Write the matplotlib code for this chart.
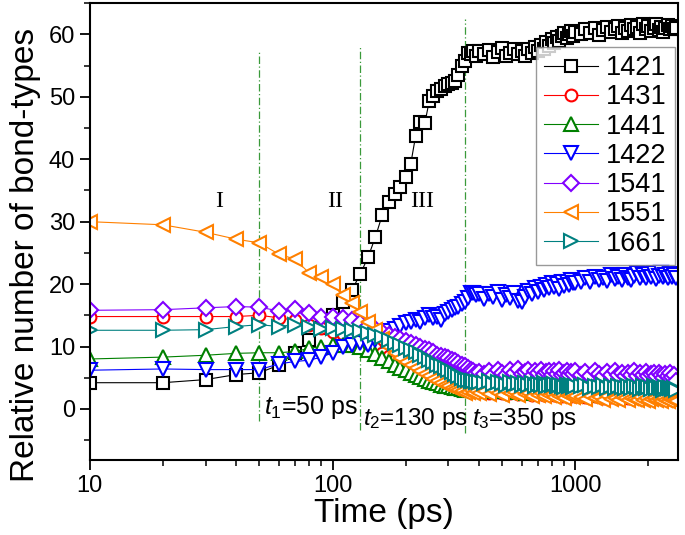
import matplotlib
matplotlib.use("Agg")
import matplotlib.pyplot as plt
from matplotlib.ticker import FixedLocator, NullFormatter, MultipleLocator
import numpy as np

plt.rcParams['font.family'] = ['Liberation Sans', 'DejaVu Sans']
plt.rcParams['mathtext.fontset'] = 'custom'
plt.rcParams['mathtext.rm'] = 'Liberation Sans'
plt.rcParams['mathtext.it'] = 'Liberation Sans:italic'

# ---- data ----
time_a = [10, 20, 30, 40, 50, 60, 70, 80, 90, 100, 110, 120, 130, 140, 150, 160, 170, 180, 190, 200,
          210, 220, 230, 240, 250, 260, 270, 280, 290, 300, 310, 320, 330, 340, 350, 360, 370, 380, 390, 400]
time_b = [420, 440, 460, 480, 500, 520, 540, 560, 580, 600, 620, 640, 660, 680, 700, 720, 740, 760, 780, 800,
          820, 840, 860, 880, 900, 920, 940, 960, 980, 1000]
time_c = [1050, 1100, 1150, 1200, 1250, 1300, 1350, 1400, 1450, 1500, 1550, 1600, 1650, 1700, 1750, 1800,
          1850, 1900, 1950, 2000, 2050, 2100, 2150, 2200, 2250, 2300, 2350, 2400, 2450, 2500, 2550, 2600]
time_ps = time_a + time_b + time_c

b1421 = [4.2, 4.2, 4.7, 5.5, 5.8, 7.0, 9.0, 11.0, 13.0, 15.0, 17.2, 19.0, 21.6, 24.3, 27.5, 31.0, 33.1, 34.4, 35.5, 37.1,
         39.3, 43.8, 45.9, 45.8, 49.3, 50.2, 50.9, 51.3, 51.8, 52.0, 52.2, 52.5, 53.5, 55.0, 55.7, 57.1, 56.8, 57.3, 56.6, 57.4,
         56.9, 57.5, 56.4, 57.2, 57.8, 56.6, 57.0, 57.6, 56.8, 57.3, 56.5, 57.7, 57.1, 58.0, 57.4, 58.3, 57.6, 58.8, 58.2, 59.3,
         58.7, 59.6, 59.0, 59.8, 60.3, 59.4, 60.1, 60.6, 59.7, 60.4,
         60.0, 60.8, 60.3, 61.0, 59.9, 60.7, 61.2, 60.4, 60.9, 61.4, 60.2, 61.0, 60.6, 61.5, 60.8, 61.2, 60.3, 61.6, 60.9, 61.3,
         60.5, 61.1, 61.6, 60.7, 61.2, 60.4, 61.0, 61.5, 60.8, 61.3, 60.9, 61.0]
b1431 = [14.8, 14.8, 14.8, 14.8, 15.0, 14.6, 14.2, 13.5, 12.9, 12.4, 12.0, 11.6, 11.1, 10.4, 9.7, 9.0, 8.4, 7.9, 7.4, 6.9,
         6.5, 6.1, 5.7, 5.4, 5.1, 4.8, 4.5, 4.3, 4.0, 3.8, 3.6, 3.4, 3.2, 3.1, 3.0, 2.9, 3.2, 2.8, 3.0, 2.7,
         2.9, 2.6, 3.1, 2.7, 2.5, 3.0, 2.6, 2.8, 2.4, 2.9, 2.5, 2.7, 2.3, 2.8, 2.4, 2.6, 2.2, 2.7, 2.4, 2.5,
         2.2, 2.6, 2.3, 2.1, 2.5, 2.2, 2.4, 2.0, 2.3, 2.1,
         2.2, 1.9, 2.3, 2.0, 2.2, 1.8, 2.1, 1.9, 2.2, 1.8, 2.0, 2.1, 1.8, 2.0, 1.9, 2.1, 1.7, 2.0, 1.9, 1.8,
         2.1, 1.7, 1.9, 2.0, 1.8, 1.9, 1.7, 2.0, 1.8, 1.9, 1.7, 1.9]
b1441 = [8.0, 8.3, 8.6, 8.9, 9.0, 9.0, 9.2, 9.7, 10.0, 10.3, 10.3, 10.2, 9.9, 9.4, 8.8, 8.2, 7.6, 7.1, 6.6, 6.2,
         5.8, 5.4, 5.1, 4.8, 4.5, 4.3, 4.1, 3.9, 3.7, 3.6, 3.5, 3.4, 3.3, 3.2, 3.1, 3.2, 3.0, 3.3, 2.9, 3.1,
         3.0, 3.3, 2.8, 3.2, 2.9, 3.1, 2.7, 3.2, 2.9, 3.0, 2.6, 3.1, 2.8, 3.0, 2.7, 2.9, 2.6, 3.0, 2.7, 2.8,
         2.5, 2.9, 2.6, 2.8, 2.5, 2.7, 2.4, 2.8, 2.5, 2.6,
         2.6, 2.3, 2.7, 2.4, 2.6, 2.3, 2.5, 2.2, 2.6, 2.4, 2.3, 2.5, 2.2, 2.4, 2.3, 2.5, 2.1, 2.4, 2.3, 2.2,
         2.4, 2.1, 2.3, 2.2, 2.4, 2.1, 2.3, 2.2, 2.0, 2.3, 2.1, 2.1]
b1422 = [6.2, 6.4, 6.3, 6.3, 6.3, 7.2, 7.6, 7.8, 8.3, 9.0, 10.0, 10.3, 10.5, 10.2, 11.0, 12.2, 12.5, 12.8, 13.3, 13.7,
         13.9, 14.3, 14.0, 14.6, 15.0, 14.6, 14.8, 14.3, 15.2, 15.5, 15.8, 16.2, 16.4, 16.8, 17.1, 17.8, 18.5, 18.6, 18.3, 18.4,
         17.6, 18.4, 17.9, 18.7, 17.5, 18.2, 17.8, 18.6, 17.3, 17.1, 18.0, 18.9, 18.4, 19.3, 18.7, 19.6, 19.0, 19.8, 19.3, 20.1,
         19.5, 20.0, 19.2, 20.3, 19.7, 20.4, 19.9, 20.6, 20.1, 20.2,
         20.3, 20.9, 20.4, 21.2, 20.6, 21.0, 20.5, 21.4, 20.8, 21.1, 20.6, 21.5, 21.0, 20.7, 21.3, 21.8, 20.9, 21.4, 21.0, 21.6,
         21.1, 21.7, 20.8, 21.3, 21.9, 21.2, 21.5, 21.0, 21.6, 21.2, 21.4, 21.0]
b1541 = [15.8, 15.9, 16.2, 16.4, 16.3, 15.7, 16.0, 15.4, 14.8, 14.8, 14.5, 14.3, 13.8, 13.3, 12.8, 12.3, 11.9, 11.5, 11.2, 10.9,
         10.6, 10.3, 9.9, 9.6, 9.4, 9.1, 8.7, 8.5, 8.3, 8.2, 7.9, 7.6, 7.3, 7.0, 6.8, 6.5, 6.2, 6.0, 5.7, 5.9,
         5.6, 6.1, 5.4, 6.3, 5.8, 5.5, 6.2, 5.7, 6.4, 5.6, 5.9, 6.2, 5.3, 6.0, 5.7, 6.3, 5.5, 5.9, 6.1, 5.4,
         6.0, 5.6, 6.2, 5.5, 5.8, 6.1, 5.4, 5.9, 5.6, 6.0,
         5.5, 5.9, 5.3, 6.0, 5.6, 5.2, 5.9, 5.5, 6.1, 5.4, 5.7, 5.2, 5.8, 5.5, 6.0, 5.3, 5.7, 5.4, 5.9, 5.2,
         5.6, 5.8, 5.3, 5.7, 5.5, 5.0, 5.6, 5.3, 5.7, 5.1, 5.4, 4.5]
b1551 = [30.0, 29.5, 28.3, 27.2, 26.6, 24.8, 24.0, 21.8, 21.2, 20.0, 18.2, 17.0, 15.5, 14.0, 12.6, 11.2, 10.0, 9.0, 8.2, 7.5,
         7.0, 6.6, 6.1, 5.6, 5.2, 4.8, 4.5, 4.2, 3.9, 3.7, 3.4, 3.2, 3.0, 2.8, 2.6, 2.7, 3.1, 2.6, 2.9, 2.5,
         2.8, 2.4, 3.0, 2.6, 2.3, 2.9, 2.5, 2.7, 2.2, 2.8, 2.4, 2.6, 2.1, 2.7, 2.3, 2.5, 2.0, 2.6, 2.2, 2.4,
         1.9, 2.5, 2.1, 2.3, 1.8, 2.2, 2.0, 2.4, 1.9, 2.1,
         1.9, 1.6, 2.1, 1.7, 1.9, 1.5, 2.0, 1.6, 1.8, 1.4, 1.9, 1.7, 1.5, 1.8, 1.6, 1.4, 1.9, 1.5, 1.7, 1.3,
         1.6, 1.8, 1.4, 1.6, 1.3, 1.7, 1.5, 1.2, 1.6, 1.4, 1.5, 1.3]
b1661 = [12.6, 12.6, 12.7, 13.2, 13.5, 13.2, 13.5, 13.2, 12.8, 13.0, 12.8, 12.7, 12.5, 12.2, 11.8, 11.5, 11.0, 10.6, 10.2, 9.8,
         9.5, 9.1, 8.7, 8.3, 7.9, 7.5, 7.1, 6.8, 6.5, 6.2, 5.9, 5.6, 5.3, 5.0, 4.7, 4.6, 4.5, 4.4, 4.3, 4.3,
         4.2, 4.4, 4.0, 4.3, 4.1, 3.9, 4.3, 4.0, 4.2, 3.8, 4.1, 3.9, 4.2, 3.7, 4.0, 3.8, 4.1, 3.6, 3.9, 3.8,
         4.0, 3.6, 3.9, 3.7, 3.5, 3.9, 3.6, 3.8, 3.5, 3.7,
         3.6, 3.8, 3.4, 3.7, 3.5, 3.8, 3.4, 3.6, 3.3, 3.7, 3.5, 3.4, 3.7, 3.3, 3.6, 3.5, 3.2, 3.6, 3.4, 3.5,
         3.2, 3.6, 3.3, 3.5, 3.4, 3.1, 3.5, 3.3, 3.4, 3.2, 3.3, 3.1]

series_names = ['1421', '1431', '1441', '1422', '1541', '1551', '1661']
series_values = [b1421, b1431, b1441, b1422, b1541, b1551, b1661]
series_colors = ['#000000', '#FF0000', '#008000', '#0000FF', '#8000FF', '#FF8000', '#008080']
series_markers = ['s', 'o', '^', 'v', 'D', '<', '>']
series_msize = [8.5, 8.5, 10.0, 10.0, 8.0, 10.0, 10.0]

stage_times = [50, 130, 350]
stage_labels = [r'$t_1$=50 ps', r'$t_2$=130 ps', r'$t_3$=350 ps']
region_labels = ['I', 'II', 'III']
region_x = [34, 102, 234]

# ---- figure ----
fig = plt.figure(figsize=(6.85, 5.35), dpi=100)
ax = fig.add_axes([0.131, 0.140, 0.859, 0.854])

for name, vals, col, mk, ms in zip(series_names, series_values, series_colors, series_markers, series_msize):
    ax.plot(time_ps, vals, color=col, lw=0.8, marker=mk, ms=ms, mfc='white',
            mec=col, mew=1.5, label=name)

# stage lines
line_tops = [57.3, 58.0, 62.4]
line_bottoms = [-2.0, -3.3, -3.8]
for t, top, bot in zip(stage_times, line_tops, line_bottoms):
    ax.plot([t, t], [bot, top], color='#3A9A3A', lw=0.9, ls=(0, (6, 2, 1, 2)), zorder=0.5)

for lab, x in zip(region_labels, region_x):
    ax.text(x, 33.2, lab, fontsize=17, family='Liberation Serif', ha='center', va='center')

ax.text(52, 0.3, stage_labels[0], fontsize=18, ha='left', va='center')
ax.text(133, -1.6, stage_labels[1], fontsize=17.5, ha='left', va='center')
ax.text(375, -1.6, stage_labels[2], fontsize=17.5, ha='left', va='center')

ax.set_xscale('log')
ax.set_xlim(10, 2650)
ax.set_ylim(-8.2, 65)
ax.set_xticks([10, 100, 1000])
ax.set_xticklabels(['10', '100', '1000'])
ax.xaxis.set_minor_locator(FixedLocator([v * d for d in (10, 100, 1000) for v in range(2, 10) if v * d < 2650]))
ax.xaxis.set_minor_formatter(NullFormatter())
ax.set_yticks([0, 10, 20, 30, 40, 50, 60])
ax.yaxis.set_minor_locator(MultipleLocator(5))

ax.tick_params(which='major', direction='out', length=7, width=1.3, labelsize=17, top=False, right=False)
ax.tick_params(which='minor', direction='out', length=4, width=1.1, top=False, right=False)
for s in ax.spines.values():
    s.set_linewidth(1.5)

ax.set_xlabel('Time (ps)', fontsize=24)
ax.xaxis.set_label_coords(0.5, -0.082)
ax.set_ylabel('Relative number of bond-types', fontsize=24)
ax.yaxis.set_label_coords(-0.083, 0.45)

leg = ax.legend(loc='upper right', bbox_to_anchor=(0.995, 0.904), fontsize=19.5, frameon=True,
                fancybox=False, edgecolor='#808080', handlelength=2.0, labelspacing=0.12,
                borderpad=0.3, handletextpad=0.3, borderaxespad=0.0)
leg.get_frame().set_linewidth(1.0)

fig.savefig('out.png', dpi=100)
